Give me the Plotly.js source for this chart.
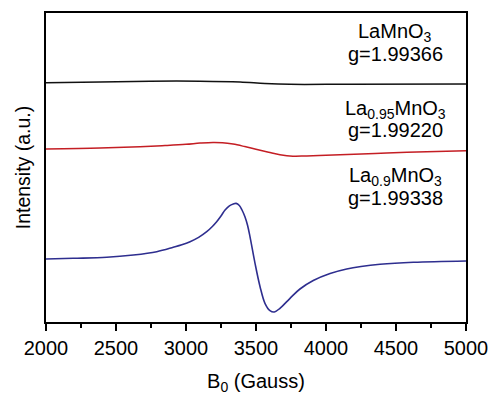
<!DOCTYPE html>
<html>
<head>
<meta charset="utf-8">
<script src="https://cdn.plot.ly/plotly-3.0.1.min.js"></script>
<style>html,body{margin:0;padding:0;background:#fff;}#chart{width:488px;height:395px;}</style>
</head>
<body>
<div id="chart"></div>
<script>
// Magnetic field (Gauss) and intensity (arbitrary units, offset traces)
const fieldLaMnO3 = [2000, 2386, 2743, 3100, 3386, 3564, 3743, 4171, 5000];
const intLaMnO3   = [239.3, 240, 240.8, 240.8, 240, 238.5, 237.7, 237.8, 238];

const fieldLa095 = [2000, 2386, 2671, 2850, 3000, 3100, 3193, 3260, 3336, 3420, 3507, 3590, 3671, 3764, 3850, 3950, 4100, 4350, 4579, 5000];
const intLa095   = [173, 174, 175.3, 176.5, 177.7, 178.9, 179.6, 179.3, 177.9, 175.4, 172.5, 169.8, 167.3, 165.8, 166.0, 166.5, 167.3, 168.6, 169.7, 171.3];

const fieldLa09 = [2000, 2195, 2434, 2624, 2791, 2909, 2970, 3029, 3090, 3148, 3190, 3219, 3250, 3279, 3310, 3338, 3358, 3381, 3400, 3421, 3440, 3457, 3493, 3529, 3564, 3600, 3631, 3671, 3743, 3814, 3909, 4029, 4148, 4250, 4386, 4624, 5000];
const intLa09   = [63, 63.7, 64.7, 67, 70.3, 74.7, 77.2, 80.3, 84.6, 90.3, 95.8, 100.3, 106, 112, 116.2, 118, 118.6, 116.5, 112, 105.3, 96.5, 85.3, 58.7, 35.3, 18.7, 11.3, 10, 13.7, 23.7, 33, 41.5, 48.5, 53, 55.5, 57.7, 59.7, 61];

const labelNames = ["LaMnO<sub>3</sub>", "La<sub>0.95</sub>MnO<sub>3</sub>", "La<sub>0.9</sub>MnO<sub>3</sub>"];
const labelG = ["g=1.99366", "g=1.99220", "g=1.99338"];

const font = "Liberation Sans, Arial, sans-serif";

const traces = [
  {x: fieldLaMnO3, y: intLaMnO3, mode: "lines", line: {color: "#111111", width: 1.5, shape: "spline", smoothing: 1}},
  {x: fieldLa095, y: intLa095, mode: "lines", line: {color: "#c41e24", width: 1.5, shape: "spline", smoothing: 1}},
  {x: fieldLa09, y: intLa09, mode: "lines", line: {color: "#2e2e8f", width: 1.6, shape: "spline", smoothing: 1}}
];

// label positions in paper coords
const labelY = [[0.938, 0.868], [0.689, 0.620], [0.472, 0.401]];
const annotations = [];
for (let i = 0; i < 3; i++) {
  annotations.push({xref: "paper", yref: "paper", x: 0.832, y: labelY[i][0], text: labelNames[i], showarrow: false, xanchor: "center", yanchor: "middle", borderpad: 0, font: {family: font, size: 20, color: "#000"}});
  annotations.push({xref: "paper", yref: "paper", x: 0.832, y: labelY[i][1], text: labelG[i], showarrow: false, xanchor: "center", yanchor: "middle", borderpad: 0, font: {family: font, size: 20, color: "#000"}});
}

const layout = {
  width: 488, height: 395,
  margin: {l: 46, r: 22, t: 13, b: 73},
  paper_bgcolor: "#fff", plot_bgcolor: "#fff",
  showlegend: false,
  font: {family: font, size: 20, color: "#000"},
  xaxis: {
    range: [2000, 5000], tickvals: [2000, 2500, 3000, 3500, 4000, 4500, 5000],
    ticks: "outside", ticklen: 7, tickwidth: 2, tickcolor: "#000",
    ticklabeloverflow: "allow",
    minor: {dtick: 250, ticks: "outside", ticklen: 4, tickwidth: 2, tickcolor: "#000"},
    showline: true, linewidth: 2, linecolor: "#000", mirror: true,
    showgrid: false, zeroline: false,
    tickfont: {family: font, size: 20, color: "#000"},
    title: {text: "B<sub>0</sub> (Gauss)", font: {family: font, size: 20, color: "#000"}, standoff: 17}
  },
  yaxis: {
    range: [0, 309], showticklabels: false, ticks: "",
    showline: true, linewidth: 2, linecolor: "#000", mirror: true,
    showgrid: false, zeroline: false,
    title: {text: "Intensity (a.u.)", font: {family: font, size: 19.5, color: "#000"}, standoff: 8}
  },
  annotations: annotations
};

Plotly.newPlot("chart", traces, layout, {displayModeBar: false, staticPlot: true});
</script>
</body>
</html>
